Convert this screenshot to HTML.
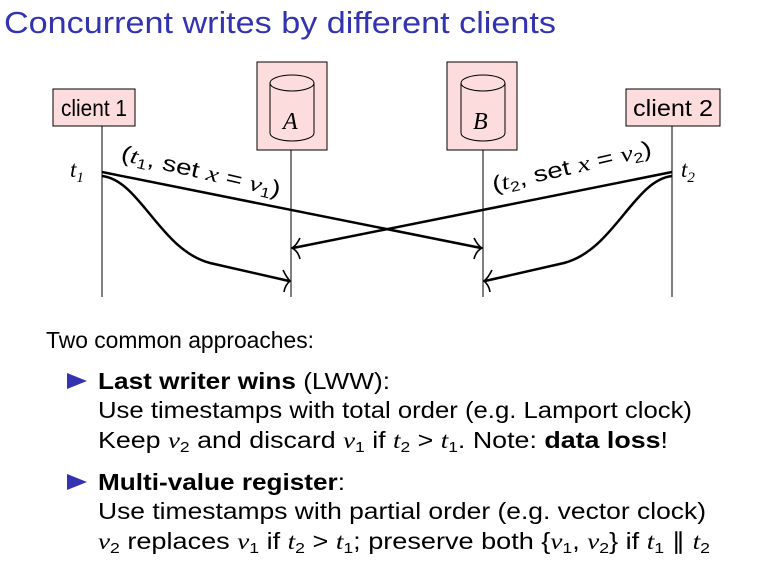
<!DOCTYPE html>
<html><head><meta charset="utf-8"><style>
html,body{margin:0;padding:0;background:#fff;}
svg{display:block;}
text{font-family:"Liberation Sans",sans-serif;}
.m{font-family:"Liberation Serif",serif;font-style:italic;}
</style></head><body>
<svg width="762" height="568" viewBox="0 0 762 568" xmlns="http://www.w3.org/2000/svg">
<text x="4" y="33" font-size="31" fill="#3333b2" textLength="552" lengthAdjust="spacingAndGlyphs">Concurrent writes by different clients</text>
<!-- lifelines -->
<g stroke="#000" stroke-width="1">
<line x1="102" y1="126" x2="102" y2="297"/>
<line x1="291" y1="150" x2="291" y2="297"/>
<line x1="483" y1="150" x2="483" y2="297"/>
<line x1="672" y1="126" x2="672" y2="297"/>
</g>
<!-- boxes -->
<g fill="#fcdcdc" stroke="#000" stroke-width="1">
<rect x="53" y="89" width="82" height="37"/>
<rect x="626" y="89" width="94" height="37"/>
<rect x="257" y="62" width="70" height="88"/>
<rect x="447" y="62" width="70" height="88"/>
</g>
<text x="61" y="116" font-size="23" textLength="66" lengthAdjust="spacingAndGlyphs">client 1</text>
<text x="633" y="116" font-size="23" textLength="80" lengthAdjust="spacingAndGlyphs">client 2</text>
<!-- cylinders -->
<g fill="none" stroke="#000" stroke-width="1">
<path d="M270 83 v50 a22 8 0 0 0 44 0 v-50"/>
<ellipse cx="292" cy="83" rx="22" ry="8"/>
<path d="M461 83 v50 a22 8 0 0 0 44 0 v-50"/>
<ellipse cx="483" cy="83" rx="22" ry="8"/>
</g>
<text class="m" x="283" y="129" font-size="24">A</text>
<text class="m" x="473" y="129" font-size="24">B</text>
<!-- t labels -->
<text class="m" x="70" y="177" font-size="23">t<tspan font-size="15" dy="5">1</tspan></text>
<text class="m" x="681" y="177" font-size="23">t<tspan font-size="15" dy="5">2</tspan></text>
<text x="120" y="160" font-size="22" transform="rotate(13 120 160)" textLength="163" lengthAdjust="spacingAndGlyphs">(<tspan class="m">t</tspan><tspan font-size="14" dy="4">1</tspan><tspan dy="-4">, set </tspan><tspan class="m">x</tspan> = <tspan class="m">v</tspan><tspan font-size="14" dy="4">1</tspan><tspan dy="-4">)</tspan></text>
<text x="494" y="192" font-size="22" transform="rotate(-13 494 192)" textLength="163" lengthAdjust="spacingAndGlyphs">(<tspan class="m">t</tspan><tspan font-size="14" dy="4">2</tspan><tspan dy="-4">, set </tspan><tspan class="m">x</tspan> = <tspan class="m">v</tspan><tspan font-size="14" dy="4">2</tspan><tspan dy="-4">)</tspan></text>
<!-- arrows -->
<g fill="none" stroke="#000" stroke-width="2.5">
<line x1="102" y1="172" x2="481" y2="248"/>
<line x1="672" y1="172" x2="293" y2="248"/>
<path d="M102 176 C140 180 160 250 210 263 L289 281"/>
<path d="M672 176 C634 180 614 250 564 263 L485 281"/>
</g>
<g fill="none" stroke="#000" stroke-width="1.6">
<path d="M474 238 Q478 246 482 248 Q476 251 474 259"/>
<path d="M300 238 Q296 246 292 248 Q298 251 300 259"/>
<path d="M283 270 Q287 278 290 281 Q285 285 284 292"/>
<path d="M492 270 Q488 278 484 281 Q489 285 490 292"/>
</g>
<!-- text -->
<g font-size="23" fill="#000">
<text x="46" y="348" textLength="268" lengthAdjust="spacingAndGlyphs">Two common approaches:</text>
<polygon points="67,373 67,389 87,381" fill="#3333b2"/>
<text x="98" y="389" textLength="292" lengthAdjust="spacingAndGlyphs"><tspan font-weight="bold">Last writer wins</tspan> (LWW):</text>
<text x="98" y="418" textLength="594" lengthAdjust="spacingAndGlyphs">Use timestamps with total order (e.g. Lamport clock)</text>
<text x="98" y="448" textLength="570" lengthAdjust="spacingAndGlyphs">Keep <tspan class="m">v</tspan><tspan font-size="15" dy="4">2</tspan><tspan dy="-4"> and discard </tspan><tspan class="m">v</tspan><tspan font-size="15" dy="4">1</tspan><tspan dy="-4"> if </tspan><tspan class="m">t</tspan><tspan font-size="15" dy="4">2</tspan><tspan dy="-4"> &gt; </tspan><tspan class="m">t</tspan><tspan font-size="15" dy="4">1</tspan><tspan dy="-4">. Note: </tspan><tspan font-weight="bold">data loss</tspan>!</text>
<polygon points="67,474 67,490 87,482" fill="#3333b2"/>
<text x="98" y="490" textLength="247" lengthAdjust="spacingAndGlyphs"><tspan font-weight="bold">Multi-value register</tspan>:</text>
<text x="98" y="519" textLength="608" lengthAdjust="spacingAndGlyphs">Use timestamps with partial order (e.g. vector clock)</text>
<text x="98" y="549" textLength="612" lengthAdjust="spacingAndGlyphs"><tspan class="m">v</tspan><tspan font-size="15" dy="4">2</tspan><tspan dy="-4"> replaces </tspan><tspan class="m">v</tspan><tspan font-size="15" dy="4">1</tspan><tspan dy="-4"> if </tspan><tspan class="m">t</tspan><tspan font-size="15" dy="4">2</tspan><tspan dy="-4"> &gt; </tspan><tspan class="m">t</tspan><tspan font-size="15" dy="4">1</tspan><tspan dy="-4">; preserve both {</tspan><tspan class="m">v</tspan><tspan font-size="15" dy="4">1</tspan><tspan dy="-4">, </tspan><tspan class="m">v</tspan><tspan font-size="15" dy="4">2</tspan><tspan dy="-4">} if </tspan><tspan class="m">t</tspan><tspan font-size="15" dy="4">1</tspan><tspan dy="-4"> ∥ </tspan><tspan class="m">t</tspan><tspan font-size="15" dy="4">2</tspan></text>
</g>
</svg>
</body></html>
